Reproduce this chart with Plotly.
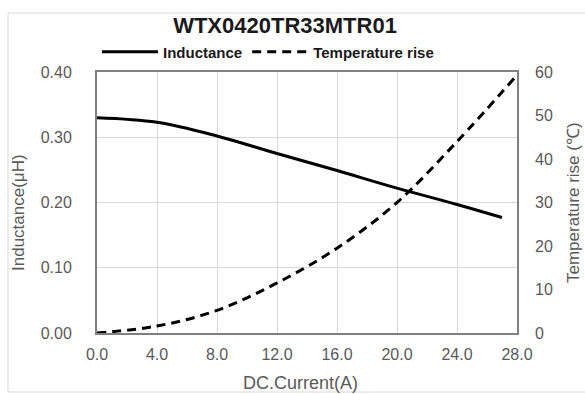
import plotly.graph_objects as go

# Data
current_L = [0, 4, 8, 12, 16, 20, 24, 27.0]
inductance = [0.330, 0.323, 0.302, 0.275, 0.249, 0.222, 0.197, 0.177]

current_T = [0, 4, 8, 12, 16, 20, 24, 27.8]
temp_rise = [0, 1.6, 5.2, 11.5, 19.5, 30.0, 44.0, 58.5]

x_ticks = [0, 4, 8, 12, 16, 20, 24, 28]
x_tick_labels = ["0.0", "4.0", "8.0", "12.0", "16.0", "20.0", "24.0", "28.0"]
yL_ticks = [0, 0.1, 0.2, 0.3, 0.4]
yL_tick_labels = ["0.00", "0.10", "0.20", "0.30", "0.40"]
yR_ticks = [0, 10, 20, 30, 40, 50, 60]
yR_tick_labels = ["0", "10", "20", "30", "40", "50", "60"]

W, H = 585, 394
ML, MR, MT, MB = 97, 68, 72, 61
PW, PH = W - ML - MR, H - MT - MB

def px_x(p):
    return (p - ML) / PW

def px_y(p):
    return (H - MB - p) / PH

GRAY = "#595959"
FONT = "Liberation Sans, Arial"
fig = go.Figure()
fig.add_trace(go.Scatter(x=current_L, y=inductance, mode="lines", name="Inductance",
                         line=dict(color="#000000", width=3, shape="spline", smoothing=1.0), yaxis="y"))
fig.add_trace(go.Scatter(x=current_T, y=temp_rise, mode="lines", name="Temperature rise",
                         line=dict(color="#000000", width=3, dash="9px,6px", shape="spline", smoothing=1.0),
                         yaxis="y2"))

# outer chart frame
fig.add_shape(type="rect", xref="paper", yref="paper",
              x0=px_x(8), x1=px_x(640), y0=px_y(392), y1=px_y(13),
              line=dict(color="#d9d9d9", width=1), layer="below")

# axis titles placed as annotations
fig.add_annotation(text="DC.Current(A)", xref="paper", yref="paper", x=px_x(300), y=px_y(383),
                   xanchor="center", yanchor="middle", showarrow=False,
                   font=dict(family=FONT, size=18, color=GRAY))
fig.add_annotation(text="Inductance(μH)", xref="paper", yref="paper", x=px_x(18), y=px_y(213),
                   xanchor="center", yanchor="middle", showarrow=False, textangle=-90,
                   font=dict(family=FONT, size=17, color=GRAY))
fig.add_annotation(text="Temperature rise (℃)", xref="paper", yref="paper", x=px_x(573), y=px_y(203),
                   xanchor="center", yanchor="middle", showarrow=False, textangle=-90,
                   font=dict(family=FONT, size=17, color=GRAY))

tickfont = dict(family=FONT, size=16, color=GRAY)
fig.update_layout(
    width=W, height=H,
    margin=dict(l=ML, r=MR, t=MT, b=MB, autoexpand=False),
    paper_bgcolor="white", plot_bgcolor="white",
    title=dict(text="<b>WTX0420TR33MTR01</b>", x=285 / W, xref="container", xanchor="center",
               y=1 - 25 / H, yanchor="middle",
               font=dict(family=FONT, size=22, color="#1a1a1a")),
    showlegend=True,
    legend=dict(orientation="h", x=px_x(268), xanchor="center", y=px_y(52), yanchor="middle",
                font=dict(family=FONT, size=15, color="#1a1a1a", weight="bold"),
                itemwidth=56, bgcolor="rgba(0,0,0,0)"),
    xaxis=dict(range=[0, 28], tickvals=x_ticks, ticktext=x_tick_labels, tickfont=tickfont,
               showgrid=True, gridcolor="#d9d9d9", gridwidth=1, zeroline=False,
               showline=True, linecolor="#808080", linewidth=2, mirror=True,
               ticks="", ticklabelstandoff=6),
    yaxis=dict(range=[0, 0.4], tickvals=yL_ticks, ticktext=yL_tick_labels, tickfont=tickfont,
               showgrid=True, gridcolor="#d9d9d9", gridwidth=1, zeroline=False,
               showline=True, linecolor="#808080", linewidth=2, mirror=True,
               ticks="", ticklabelstandoff=20),
    yaxis2=dict(range=[0, 60], tickvals=yR_ticks, ticktext=yR_tick_labels, tickfont=tickfont,
                overlaying="y", side="right", showgrid=False, zeroline=False,
                ticks="", ticklabelstandoff=17),
)

# remove the default page margin so the figure sits at the window origin
fig.write_html("out.html", config={"displayModeBar": False},
               post_script="document.body.style.margin='0';document.body.style.overflow='hidden';")
